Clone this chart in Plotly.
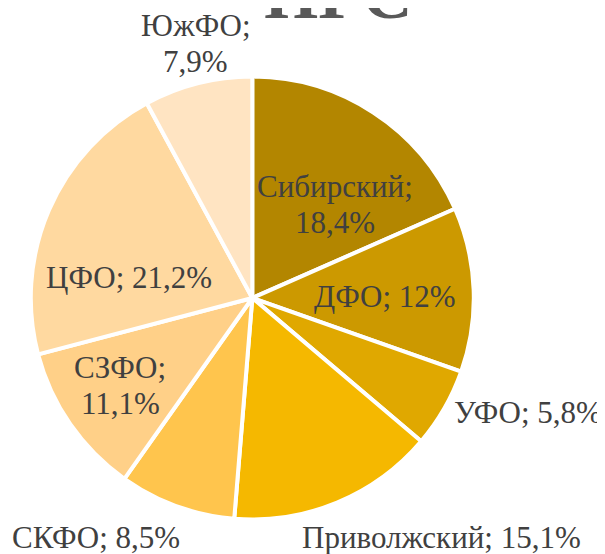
import plotly.graph_objects as go

# ---- data ----
regions = ["Сибирский", "ДФО", "УФО", "Приволжский", "СКФО", "СЗФО", "ЦФО", "ЮжФО"]
shares = [18.4, 12.0, 5.8, 15.1, 8.5, 11.1, 21.2, 7.9]
share_labels = ["18,4%", "12%", "5,8%", "15,1%", "8,5%", "11,1%", "21,2%", "7,9%"]
title_text = "ПГС"

# ---- style ----
colors = ["#B38600", "#CC9900", "#E0A800", "#F5B800", "#FFC54D", "#FFD088", "#FFD9A0", "#FFE4C2"]
wrap = [True, False, False, False, False, True, False, True]
# label anchor (centre x, baseline y of first line) in page pixels, and line gap
label_pos = [(335, 197), (385, 307), (528, 423), (441, 548), (96, 548), (120, 378), (129, 288), (195.5, 36)]
line_gap = 35.5

W, H = 605, 554
OFF = 8            # page body margin
FS = 31
FONT = "Liberation Serif, Times New Roman, serif"
cx, cy, r = 252.3 - OFF, 298 - OFF, 219.5 + 2

fig = go.Figure(go.Pie(
    labels=regions,
    values=shares,
    textinfo="none",
    sort=False,
    direction="clockwise",
    rotation=0,
    marker=dict(colors=colors, line=dict(color="white", width=4)),
    domain=dict(x=[(cx - r) / W, (cx + r) / W], y=[(H - cy - r) / H, (H - cy + r) / H]),
    showlegend=False,
    hoverinfo="label+percent",
))

annotations = []
for reg, lab, wr, (px, py) in zip(regions, share_labels, wrap, label_pos):
    lines = [reg + ";", lab] if wr else [f"{reg}; {lab}"]
    for i, line in enumerate(lines):
        base = py + i * line_gap - OFF
        yc = base - 0.3375 * FS
        annotations.append(dict(
            text=line, x=(px - OFF) / W, y=1 - yc / H, xref="paper", yref="paper",
            xanchor="center", yanchor="middle", showarrow=False,
            font=dict(family=FONT, size=FS, color="#404040"),
        ))

TS = 70
t_base = 18 - OFF
annotations.append(dict(
    text=f"<b>{title_text}</b>", x=(338 - OFF) / W, y=1 - (t_base - 0.3375 * TS) / H,
    xref="paper", yref="paper", xanchor="center", yanchor="middle", showarrow=False,
    font=dict(family=FONT, size=TS, color="#595959"),
))

fig.update_layout(
    width=W, height=H,
    margin=dict(l=0, r=0, t=0, b=0),
    paper_bgcolor="white",
    annotations=annotations,
)

fig.write_html("out.html")
